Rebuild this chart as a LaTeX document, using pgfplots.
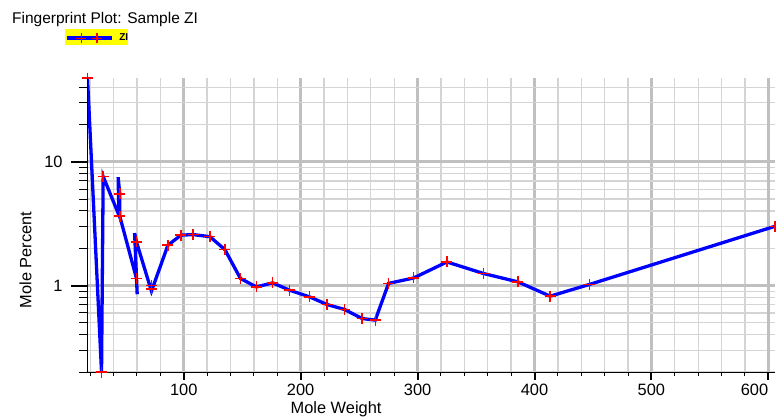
\documentclass[border=0pt]{standalone}
\usepackage{fontspec}
\setmainfont{Liberation Sans}
\usepackage{pgfplots}
\usepackage{pgfplotstable}
\pgfplotsset{compat=1.18}

\definecolor{gridmajor}{RGB}{192,192,192}
\definecolor{gridminor}{RGB}{212,212,212}
\definecolor{legendyellow}{RGB}{255,255,0}

\newcommand{\labelfont}{\fontsize{16.4}{19}\selectfont}

% polyline through the fingerprint (includes unmarked turning points)
\pgfplotstableread{
mw     pct
17.7   47.5
29.7   0.2
31.1   7.6
44.6   3.7
43.9   7.5
45.3   5.5
45.3   3.63
59.6   1.14
60.2   0.85
58.0   2.65
59.6   2.25
72.4   0.90
86.5   2.12
97.6   2.55
108.0  2.58
122.4  2.48
135.2  1.95
148.5  1.14
162.1  0.974
176.1  1.05
190.6  0.916
207.7  0.809
222.6  0.702
237.6  0.640
252.5  0.541
263.8  0.525
275.2  1.04
296.6  1.15
325.1  1.55
356.4  1.25
385.8  1.07
413.4  0.82
447.0  1.02
605.7  3.01
}\fpline

% measured components (marked with +)
\pgfplotstableread{
mw     pct
17.7   47.5
29.7   0.2
31.1   7.6
45.3   5.5
45.3   3.63
59.6   2.25
59.6   1.14
72.6   1.0
72.6   0.94
86.5   2.12
97.6   2.55
108.0  2.58
122.4  2.48
135.2  1.95
148.5  1.14
162.1  0.974
176.1  1.05
190.6  0.916
207.7  0.809
222.6  0.702
237.6  0.640
252.5  0.541
263.8  0.525
275.2  1.04
296.6  1.15
325.1  1.55
356.4  1.25
385.8  1.07
413.4  0.82
447.0  1.02
605.7  3.01
}\fpmarks

\begin{document}
\begin{tikzpicture}
\useasboundingbox (0pt,0pt) rectangle (776pt,-418pt);

% main frame: grid, x axis, data and legend
\begin{axis}[
  scale only axis,
  width=687.5pt, height=294pt,
  at={(87.5pt,-372pt)}, anchor=south west,
  xmin=17.7, xmax=605.7,
  ymode=log, ymin=0.2, ymax=47.5,
  axis x line*=bottom, axis y line*=left,
  tick align=outside,
  every major tick/.append style={line width=2pt, black},
  every minor tick/.append style={line width=1pt, black},
  axis line style={line width=1pt, black},
  tick label style={font=\labelfont},
  label style={font=\labelfont},
  xtick={100,200,300,400,500},
  xticklabels={100,200,300,400,500},
  extra x ticks={600},
  extra x tick labels={600},
  extra x tick style={grid=major, xticklabel style={anchor=base east, xshift=0pt}},
  minor xtick={20,40,60,80,120,140,160,180,220,240,260,280,320,340,360,380,420,440,460,480,520,540,560,580},
  ytick={1,10},
  yticklabels={},
  minor ytick={0.2,0.3,0.4,0.5,0.6,0.7,0.8,0.9,2,3,4,5,6,7,8,9,20,30,40},
  grid=both,
  major grid style={line width=2.5pt, gridmajor},
  minor grid style={line width=1.3pt, gridminor},
  major tick length=7.5pt, minor tick length=4pt,
  xticklabel style={anchor=base, inner sep=0pt, yshift=-16.2pt},
  xlabel={Mole Weight},
  xlabel style={at={(axis description cs:0.3615,-0.1405)}, anchor=base, inner sep=0pt},
  legend style={at={(axis description cs:-0.03273,1.16565)}, anchor=north west,
    fill=legendyellow, draw=none, inner sep=0pt, outer sep=0pt,
    nodes={inner sep=0pt, text depth=0pt, font=\fontsize{10}{12}\selectfont\bfseries},
    column sep=0pt, row sep=0pt},
]
\addplot[blue, line width=3.3pt, no markers,
  legend image code/.code={
    \path[draw=none, fill=none] (0pt,-7.5pt) rectangle (52.3pt,8.2pt);
    \draw[blue, line width=4pt] (0pt,-0.8pt) -- (45pt,-0.8pt);
    \draw[red, line width=1.5pt, mark size=5pt, only marks, mark=+]
      plot coordinates {(14.3pt,-0.8pt) (30pt,-0.8pt)};
  }] table[x=mw, y=pct] {\fpline};
\addlegendentry{ZI}
\addplot[forget plot, only marks, mark=+, mark size=5.5pt, red,
  mark options={line width=1.5pt}] table[x=mw, y=pct] {\fpmarks};
\end{axis}

% y axis with its longer ticks and labels
\begin{axis}[
  scale only axis,
  width=687.5pt, height=294pt,
  at={(87.5pt,-372pt)}, anchor=south west,
  xmin=17.7, xmax=605.7,
  ymode=log, ymin=0.2, ymax=47.5,
  hide x axis,
  axis y line*=left,
  tick align=outside,
  every major tick/.append style={line width=2pt, black},
  every minor tick/.append style={line width=1pt, black},
  axis line style={line width=1pt, black},
  tick label style={font=\labelfont},
  label style={font=\labelfont},
  ytick={1,10},
  yticklabels={1,10},
  minor ytick={0.2,0.3,0.4,0.5,0.6,0.7,0.8,0.9,2,3,4,5,6,7,8,9,20,30,40},
  major tick length=16pt, minor tick length=8pt,
  yticklabel style={anchor=east, inner sep=0pt, xshift=-8.8pt},
  ylabel={Mole Percent},
  ylabel style={at={(axis description cs:-0.0815,0.381)}, anchor=base, inner sep=0pt},
]
\end{axis}

\node[anchor=base west, inner sep=0pt, font=\fontsize{15.5}{18}\selectfont]
  at (12pt,-23.3pt) {Fingerprint Plot: Sample ZI};
\end{tikzpicture}
\end{document}
